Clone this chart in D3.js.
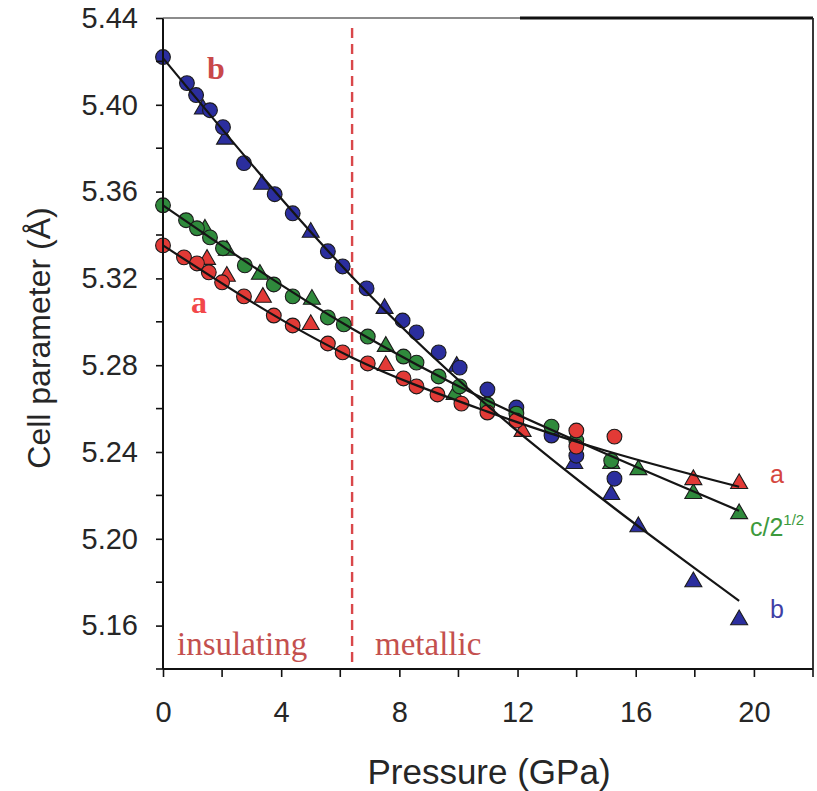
<!DOCTYPE html>
<html>
<head>
<meta charset="utf-8">
<script src="https://cdn.jsdelivr.net/npm/d3@7/dist/d3.min.js"></script>
<style>
  html, body { margin: 0; padding: 0; background: #fff; }
  svg { display: block; }
</style>
</head>
<body>
<svg id="chart" width="817" height="791"></svg>
<script>
// ---------- data ----------
const xTicks = [0, 4, 8, 12, 16, 20];
const xMinorTicks = [2, 6, 10, 14, 18, 22];
const yTicks = [5.16, 5.20, 5.24, 5.28, 5.32, 5.36, 5.40, 5.44];
const yMinorTicks = [5.14, 5.18, 5.22, 5.26, 5.30, 5.34, 5.38, 5.42];
const transitionP = 6.4;

// b parameter (blue)
const bCircleP = [0, 0.81, 1.12, 1.59, 2.03, 2.74, 3.78, 4.39, 5.58, 6.08, 6.89, 8.11, 8.58, 9.33, 10.04, 10.98, 11.96, 13.15, 13.99, 15.28];
const bCircleV = [5.422, 5.410, 5.4045, 5.3975, 5.3897, 5.3731, 5.3588, 5.350, 5.3325, 5.3255, 5.3154, 5.3006, 5.2951, 5.2859, 5.2789, 5.2688, 5.2605, 5.2476, 5.2383, 5.2277];
const bTriP = [1.35, 2.10, 3.35, 5.00, 7.50, 9.94, 13.92, 15.17, 16.09, 17.95, 19.50];
const bTriV = [5.3985, 5.3846, 5.3638, 5.3417, 5.3066, 5.2799, 5.2351, 5.2208, 5.206, 5.1806, 5.1631];
const bFitP = [0, 6.39, 19.5];
const bFitV = [5.4215, 5.3209, 5.1714];

// c/2^1/2 (green)
const cCircleP = [0, 0.78, 1.15, 1.59, 2.03, 2.77, 3.75, 4.39, 5.58, 6.12, 6.93, 8.14, 8.58, 9.33, 10.04, 10.98, 11.96, 13.15, 13.99, 15.17];
const cCircleV = [5.3537, 5.3468, 5.3431, 5.3389, 5.3339, 5.3260, 5.3172, 5.3117, 5.3020, 5.2988, 5.2932, 5.2840, 5.2812, 5.2748, 5.2702, 5.2619, 5.2577, 5.2517, 5.2452, 5.2360];
const cTriP = [1.42, 2.16, 3.28, 5.04, 7.54, 9.87, 15.17, 16.09, 17.95, 19.50];
const cTriV = [5.3431, 5.3334, 5.3223, 5.3108, 5.2891, 5.2669, 5.2351, 5.2323, 5.2213, 5.2120];
const cFitP = [0, 6.39, 10.98, 14.43, 19.5];
const cFitV = [5.3537, 5.2969, 5.2637, 5.2425, 5.2129];

// a parameter (red)
const aCircleP = [0, 0.71, 1.15, 1.55, 2.00, 2.74, 3.75, 4.39, 5.58, 6.08, 6.93, 8.14, 8.58, 9.29, 10.10, 10.98, 11.96, 13.99, 13.99, 15.28];
const aCircleV = [5.3352, 5.3297, 5.3269, 5.3228, 5.3182, 5.3117, 5.3029, 5.2983, 5.2900, 5.2859, 5.2808, 5.2739, 5.2702, 5.2665, 5.2623, 5.2582, 5.2545, 5.2499, 5.2425, 5.2471];
const aTriP = [1.49, 2.16, 3.38, 5.00, 7.54, 12.17, 17.95, 19.50];
const aTriV = [5.3292, 5.3214, 5.3117, 5.2992, 5.2803, 5.2499, 5.2277, 5.2259];
const aFitP = [0, 6.39, 10.98, 14.43, 19.5];
const aFitV = [5.3352, 5.2836, 5.2586, 5.2429, 5.224];

// ---------- layout ----------
const svg = d3.select("#chart");
const L = 163, R = 813, T = 18, B = 669;
const x = d3.scaleLinear().domain([0, 22]).range([L, R]);
const y = d3.scaleLinear().domain([5.14, 5.44]).range([B, T]);

const zip = (P, V) => P.map((p, i) => [p, V[i]]);

const series = [
  { name: "b", fill: "#2b2e9e", circ: zip(bCircleP, bCircleV), tri: zip(bTriP, bTriV), fit: zip(bFitP, bFitV) },
  { name: "c", fill: "#2f8a3c", circ: zip(cCircleP, cCircleV), tri: zip(cTriP, cTriV), fit: zip(cFitP, cFitV) },
  { name: "a", fill: "#e23a36", circ: zip(aCircleP, aCircleV), tri: zip(aTriP, aTriV), fit: zip(aFitP, aFitV) }
];

const sansFont = "'Liberation Sans', Arial, sans-serif";
const serifFont = "'Liberation Serif', 'Times New Roman', serif";

// dashed transition line
svg.append("line")
  .attr("x1", x(transitionP)).attr("x2", x(transitionP))
  .attr("y1", T + 10).attr("y2", B - 6)
  .attr("stroke", "#d9474a").attr("stroke-width", 2.4)
  .attr("stroke-dasharray", "10,6");

// markers
const triPath = d3.symbol().type(d3.symbolTriangle).size(125);
series.forEach(s => {
  const g = svg.append("g");
  g.selectAll("path.tri").data(s.tri).join("path")
    .attr("class", "tri")
    .attr("d", triPath)
    .attr("transform", d => `translate(${x(d[0])},${y(d[1]) + 1})`)
    .attr("fill", s.fill).attr("stroke", "#1b1b1b").attr("stroke-width", 1.1);
  g.selectAll("circle").data(s.circ).join("circle")
    .attr("cx", d => x(d[0])).attr("cy", d => y(d[1])).attr("r", 7.4)
    .attr("fill", s.fill).attr("stroke", "#1b1b1b").attr("stroke-width", 1.1);
});

// fit lines
const line = d3.line().x(d => x(d[0])).y(d => y(d[1])).curve(d3.curveMonotoneX);
series.forEach(s => {
  svg.append("path").attr("d", line(s.fit))
    .attr("fill", "none").attr("stroke", "#151515").attr("stroke-width", 2.2);
});

// axes
const yAxis = svg.append("g").attr("transform", `translate(${L},0)`)
  .call(d3.axisLeft(y).tickValues(yTicks).tickFormat(d3.format(".2f")).tickSize(7).tickPadding(18));
yAxis.append("g").selectAll("line").data(yMinorTicks).join("line")
  .attr("x1", 0).attr("x2", -7).attr("y1", d => y(d)).attr("y2", d => y(d));

const xAxis = svg.append("g").attr("transform", `translate(0,${B})`)
  .call(d3.axisBottom(x).tickValues(xTicks).tickFormat(d3.format("d")).tickSize(8).tickPadding(24));
xAxis.append("g").selectAll("line").data(xMinorTicks).join("line")
  .attr("x1", d => x(d)).attr("x2", d => x(d)).attr("y1", 0).attr("y2", 8);

[yAxis, xAxis].forEach(a => {
  a.select(".domain").attr("stroke", "#111").attr("stroke-width", 2);
  a.selectAll("line").attr("stroke", "#111").attr("stroke-width", 1.6);
  a.selectAll("text").attr("font-family", sansFont).attr("font-size", 29).attr("fill", "#262626");
});
yAxis.select(".domain").attr("d", `M0,${T}V${B}`);
xAxis.select(".domain").attr("d", `M${L},0H${R}`);

// frame top and right
svg.append("line").attr("x1", L).attr("x2", 520).attr("y1", T).attr("y2", T)
  .attr("stroke", "#666").attr("stroke-width", 1.6);
svg.append("line").attr("x1", 520).attr("x2", R).attr("y1", T).attr("y2", T)
  .attr("stroke", "#111").attr("stroke-width", 2.8);
svg.append("line").attr("x1", R).attr("x2", R).attr("y1", T).attr("y2", B)
  .attr("stroke", "#222").attr("stroke-width", 1.8);

// axis titles
svg.append("text").attr("x", 489).attr("y", 784).attr("text-anchor", "middle")
  .attr("font-family", sansFont).attr("font-size", 35).attr("fill", "#262626")
  .text("Pressure (GPa)");
svg.append("text").attr("transform", "translate(50,338) rotate(-90)").attr("text-anchor", "middle")
  .attr("font-family", sansFont).attr("font-size", 32).attr("fill", "#262626")
  .text("Cell parameter (Å)");

// annotations
svg.append("text").attr("x", 177).attr("y", 655).attr("font-family", serifFont)
  .attr("font-size", 33).attr("fill", "#c4504e").text("insulating");
svg.append("text").attr("x", 375).attr("y", 655).attr("font-family", serifFont)
  .attr("font-size", 33).attr("fill", "#c4504e").text("metallic");
svg.append("text").attr("x", 207).attr("y", 79).attr("font-family", serifFont)
  .attr("font-weight", "bold").attr("font-size", 32).attr("fill", "#c9484a").text("b");
svg.append("text").attr("x", 191).attr("y", 313).attr("font-family", serifFont)
  .attr("font-weight", "bold").attr("font-size", 32).attr("fill", "#f2484a").text("a");

svg.append("text").attr("x", 770).attr("y", 483).attr("font-family", sansFont)
  .attr("font-size", 25).attr("fill", "#d5463e").text("a");
const ct = svg.append("text").attr("x", 750).attr("y", 536).attr("font-family", sansFont)
  .attr("font-size", 25).attr("fill", "#3d9a3d");
ct.append("tspan").text("c/2");
ct.append("tspan").attr("dy", -11).attr("font-size", 15).text("1/2");
svg.append("text").attr("x", 770).attr("y", 618).attr("font-family", sansFont)
  .attr("font-size", 25).attr("fill", "#3f3fa6").text("b");
</script>
</body>
</html>
